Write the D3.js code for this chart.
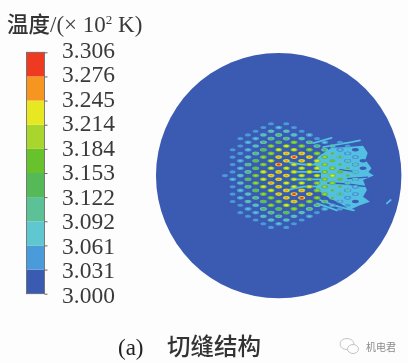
<!DOCTYPE html>
<html>
<head>
<meta charset="utf-8">
<script src="https://cdn.jsdelivr.net/npm/d3@7"></script>
<style>
  html, body { margin: 0; padding: 0; background: #fdfdfd; }
  svg { display: block; }
  .soft { filter: blur(0.6px); }
  .num { font-family: "Liberation Serif", serif; fill: #3a3a3a; }
  .cjk { font-family: "Noto Sans CJK SC", sans-serif; fill: #333; }
</style>
</head>
<body>
<div id="chart"></div>
<script>
// legend
var legendTicks = [3.000, 3.031, 3.061, 3.092, 3.122, 3.153, 3.184, 3.214, 3.245, 3.276, 3.306];
var legendColors = ["#3b5ab2", "#4a9bd9", "#5fc7cf", "#5cc196", "#56b957", "#67c22c", "#a9d62c", "#e7e822", "#f6951f", "#ef3a22"];

// temperature of each hole, one row of the hex pattern at a time (top to bottom)
var rowIndex = d3.range(-14, 15);
var rowStart = [6, 5, 4, 3, 2, 3, 2, 1, 2, 1, 2, 1, 2, 1, 0, 1, 2, 1, 2, 1, 2, 1, 2, 3, 2, 3, 4, 5, 6];
var rowTemps = [
  [3.05, 3.05],
  [3.05, 3.08, 3.06],
  [3.05, 3.10, 3.11, 3.06],
  [3.05, 3.10, 3.13, 3.12, 3.07],
  [3.04, 3.09, 3.14, 3.15, 3.11, 3.06],
  [3.08, 3.13, 3.18, 3.19, 3.13, 3.09, 3.05],
  [3.05, 3.12, 3.20, 3.22, 3.19, 3.15, 3.10, 3.06],
  [3.04, 3.09, 3.17, 3.22, 3.24, 3.20, 3.13, 3.08],
  [3.06, 3.15, 3.21, 3.25, 3.25, 3.21, 3.15, 3.09],
  [3.05, 3.12, 3.19, 3.25, 3.30, 3.25, 3.21, 3.14, 3.08],
  [3.08, 3.17, 3.23, 3.26, 3.25, 3.22, 3.16, 3.10],
  [3.05, 3.13, 3.21, 3.28, 3.24, 3.22, 3.20, 3.15, 3.10],
  [3.08, 3.18, 3.24, 3.24, 3.22, 3.22, 3.19, 3.14],
  [3.06, 3.15, 3.23, 3.25, 3.23, 3.22, 3.21, 3.18, 3.12],
  [3.04, 3.11, 3.21, 3.26, 3.25, 3.23, 3.22, 3.22, 3.15],
  [3.07, 3.17, 3.24, 3.25, 3.24, 3.21, 3.20, 3.16, 3.10],
  [3.10, 3.21, 3.27, 3.24, 3.23, 3.21, 3.19, 3.12],
  [3.05, 3.15, 3.22, 3.25, 3.24, 3.23, 3.20, 3.15, 3.09],
  [3.08, 3.18, 3.23, 3.26, 3.26, 3.21, 3.15, 3.10],
  [3.05, 3.12, 3.20, 3.25, 3.30, 3.25, 3.21, 3.14, 3.08],
  [3.07, 3.15, 3.20, 3.27, 3.28, 3.21, 3.14, 3.08],
  [3.04, 3.10, 3.17, 3.21, 3.25, 3.20, 3.13, 3.07],
  [3.05, 3.12, 3.20, 3.22, 3.19, 3.15, 3.08, 3.05],
  [3.08, 3.14, 3.18, 3.19, 3.14, 3.09, 3.05],
  [3.04, 3.09, 3.14, 3.16, 3.11, 3.06],
  [3.05, 3.10, 3.13, 3.12, 3.07],
  [3.05, 3.10, 3.11, 3.06],
  [3.05, 3.08, 3.06],
  [3.05, 3.05]
];

// open holes inside the hot patch, as [column, row] of the pattern
var patchHoles = [[15, -7], [17, -7], [16, -6], [15, -5], [17, -5], [16, -4], [18, -4], [17, -3], [18, -2], [16, 0], [17, 1], [17, 3], [16, 4], [15, 5], [17, 5], [16, 6], [17, 7]];

// outlines, in the same column/row units
var patchOutline = [[12.5, -0.8], [11.6, -3.2], [12.2, -5.2], [13, -6.3], [13.9, -7.5], [15.9, -7.7], [18, -8.1], [18.6, -6.1], [18.3, -4.3], [19.1, -2], [18.7, -1], [19.4, 0], [18, 1.2], [18.5, 3.9], [18, 5.7], [18.9, 7.1], [17.6, 8], [16.3, 9.2], [15, 7.5], [13.7, 6.2], [12.8, 5], [11.8, 3.4], [12.5, 0.8]];
var patchStreaks = [
  [[11.5, -8.8], [13.9, -10.2]],
  [[12.8, -7.7], [15.5, -8.7], [17.6, -9.5]],
  [[12, 7.5], [14.6, 9.4]],
  [[12.4, 6.6], [14.5, 8.2], [16.8, 9.4]],
  [[21.1, 7.5], [21.6, 6.6]],
  [[8.4, -3.6], [10.4, -3], [12.4, -3]],
  [[9, -1], [11, -1], [13, -1]],
  [[9, 1], [11, 1], [13, 1]],
  [[8.4, 3.8], [10.4, 3], [12.4, 3]]
];
var patchCracks = [
  [[13.4, 2], [15.5, 2.2], [18.5, 3]],
  [[16, 0.8], [18.6, 0.4]],
  [[15, -1.6], [16.5, -1.2]]
];

var diskCenter = [7, 0];
var diskRadiusCols = 16;

var width = 408, height = 363;
var svg = d3.select("#chart").append("svg").attr("width", width).attr("height", height);
var g = svg.append("g").attr("class", "soft");

var color = d3.scaleThreshold()
  .domain(legendTicks.slice(1, -1))
  .range(legendColors);

// hex pattern scales
var xHole = d3.scaleLinear().domain([0, 1]).range([225, 232.67]);
var yHole = d3.scaleLinear().domain([0, 1]).range([175.6, 179.3]);
var sizeScale = d3.scaleLinear().domain([0, 1]).range([1, 0.5]);

g.append("circle")
  .attr("cx", xHole(diskCenter[0]))
  .attr("cy", yHole(diskCenter[1]))
  .attr("r", xHole(diskRadiusCols) - xHole(0))
  .attr("fill", legendColors[0]);

var outlineLine = d3.line().x(function(d) { return xHole(d[0]); }).y(function(d) { return yHole(d[1]); });

g.append("path")
  .attr("d", outlineLine.curve(d3.curveLinearClosed)(patchOutline))
  .attr("fill", "#53bfe2");

outlineLine.curve(d3.curveCatmullRom);
g.selectAll(".streak").data(patchStreaks).enter().append("path")
  .attr("class", "streak")
  .attr("d", outlineLine)
  .attr("fill", "none")
  .attr("stroke", "#53bfe2")
  .attr("stroke-width", 1.8)
  .attr("stroke-linecap", "round");

g.selectAll(".crack").data(patchCracks).enter().append("path")
  .attr("class", "crack")
  .attr("d", outlineLine)
  .attr("fill", "none")
  .attr("stroke", legendColors[0])
  .attr("stroke-width", 1.3)
  .attr("stroke-linecap", "round");

g.selectAll(".patch-hole").data(patchHoles).enter().append("ellipse")
  .attr("class", "patch-hole")
  .attr("cx", function(d) { return xHole(d[0]); })
  .attr("cy", function(d) { return yHole(d[1]); })
  .attr("rx", function(d) { return d[1] == 0 ? 1.2 : 3.4; })
  .attr("ry", function(d) { return d[1] == 0 ? 1 : 1.7; })
  .attr("fill", legendColors[0]);

// each hole is drawn as nested bands, coolest band outside
var holes = [];
rowTemps.forEach(function(temps, i) {
  temps.forEach(function(t, j) {
    holes.push({ col: rowStart[i] + j * 2, row: rowIndex[i], temp: t });
  });
});

var bands = holes.flatMap(function(h) {
  var top = legendColors.indexOf(color(h.temp));
  return d3.range(Math.max(top - 2, 1), top + 1).map(function(lvl, k, all) {
    return { col: h.col, row: h.row, lvl: lvl, f: all.length > 1 ? k / (all.length - 1) : 0.3 };
  });
});

g.selectAll(".band").data(bands).enter().append("ellipse")
  .attr("class", "band")
  .attr("cx", function(d) { return xHole(d.col); })
  .attr("cy", function(d) { return yHole(d.row); })
  .attr("rx", function(d) { return 3.5 * sizeScale(d.f); })
  .attr("ry", function(d) { return 1.8 * sizeScale(d.f); })
  .attr("fill", function(d) { return legendColors[d.lvl]; });

// colour bar
var barY = d3.scaleLinear().domain([0, legendColors.length]).range([293.7, 52.3]);
var bar = g.append("g");
bar.selectAll("rect").data(legendColors).enter().append("rect")
  .attr("x", 26.5)
  .attr("width", 18)
  .attr("y", function(d, i) { return barY(i + 1); })
  .attr("height", function(d, i) { return barY(i) - barY(i + 1); })
  .attr("fill", function(d) { return d; });
bar.append("rect")
  .attr("x", 26.5).attr("y", barY(legendColors.length))
  .attr("width", 18).attr("height", barY(0) - barY(legendColors.length))
  .attr("fill", "none").attr("stroke", "#666").attr("stroke-width", 0.8);

var axis = d3.axisRight(barY).tickValues(d3.range(0, legendColors.length + 1)).tickSize(3).tickFormat("");
g.append("g").attr("transform", "translate(44.5,0)").call(axis)
  .call(function(s) { s.select(".domain").remove(); s.selectAll("line").attr("stroke", "#666"); });

// labels sit a little wider apart than the bar ticks
var labelY = d3.scaleLinear().domain([0, legendTicks.length - 1]).range([295, 50]);
g.selectAll(".tick-label").data(legendTicks).enter().append("text")
  .attr("class", "tick-label num")
  .attr("x", 62)
  .attr("y", function(d, i) { return labelY(i); })
  .attr("dy", "0.34em")
  .attr("font-size", 23.5)
  .text(function(d) { return d.toFixed(3); });

// title
var title = g.append("text").attr("x", 7).attr("y", 32).attr("font-size", 23);
title.append("tspan").attr("class", "cjk").attr("font-size", 21.5).attr("font-weight", 500).text("温度");
title.append("tspan").attr("class", "num").text("/(× 10");
title.append("tspan").attr("class", "num").attr("font-size", 13).attr("dy", -8).text("2");
title.append("tspan").attr("class", "num").attr("dy", 8).text(" K)");

// caption
g.append("text").attr("class", "num").attr("x", 118).attr("y", 355).attr("font-size", 23).style("fill", "#222").text("(a)");
g.append("text").attr("class", "cjk").attr("x", 167).attr("y", 355).attr("font-size", 23.5).attr("font-weight", 500).text("切缝结构");

// watermark
var mark = g.append("g").attr("fill", "none").attr("stroke", "#c4c4c4").attr("stroke-width", 1);
mark.append("ellipse").attr("cx", 347).attr("cy", 344).attr("rx", 7).attr("ry", 5.5);
mark.append("ellipse").attr("cx", 353).attr("cy", 349).attr("rx", 5.5).attr("ry", 4.5).attr("fill", "#fdfdfd");
g.append("text").attr("class", "cjk").attr("x", 366).attr("y", 351).attr("font-size", 10).style("fill", "#8a8a8a").text("机电君");
</script>
</body>
</html>
